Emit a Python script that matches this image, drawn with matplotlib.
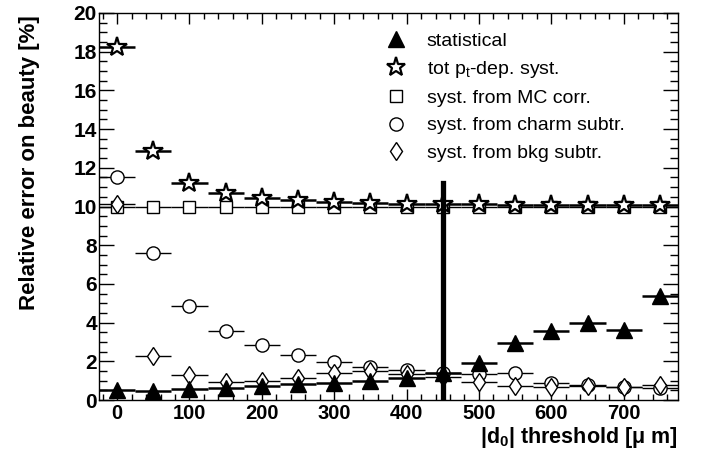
import matplotlib
matplotlib.use("Agg")
import matplotlib.pyplot as plt
from matplotlib.lines import Line2D
from matplotlib.ticker import MultipleLocator

plt.rcParams['font.family'] = ['Liberation Sans', 'DejaVu Sans']
plt.rcParams['mathtext.default'] = 'regular'

thresholds = [0, 50, 100, 150, 200, 250, 300, 350, 400, 450, 500, 550, 600, 650, 700, 750]
statistical = [0.53, 0.48, 0.57, 0.64, 0.74, 0.83, 0.9, 1.0, 1.15, 1.4, 1.92, 2.92, 3.55, 3.98, 3.6, 5.4]
tot_syst = [18.26, 12.87, 11.23, 10.7, 10.45, 10.35, 10.25, 10.2, 10.15, 10.12, 10.12, 10.1, 10.08, 10.08, 10.08, 10.08]
mc_corr = [10.0] * 16
charm_subtr = [11.5, 7.61, 4.86, 3.58, 2.84, 2.33, 1.97, 1.7, 1.55, 1.42, 1.33, 1.38, 0.86, 0.8, 0.69, 0.62]
bkg_subtr = [10.15, 2.27, 1.29, 0.95, 0.98, 1.12, 1.4, 1.5, 1.32, 1.2, 0.95, 0.72, 0.69, 0.72, 0.69, 0.76]
bin_half = 25
cut_value = 450
cut_top = 11.2

labels = ["statistical", "tot p$_{t}$-dep. syst.", "syst. from MC corr.",
          "syst. from charm subtr.", "syst. from bkg subtr."]

fig = plt.figure(figsize=(7.13, 4.54), dpi=100)
ax = fig.add_axes([99/713, 54/454, 579/713, 387/454])

ax.errorbar(thresholds, mc_corr, xerr=bin_half, fmt='s', ms=9, mfc='white', mec='black',
            mew=1.0, ecolor='black', elinewidth=1.0, capsize=0, zorder=3)
ax.errorbar(thresholds, charm_subtr, xerr=bin_half, fmt='o', ms=9.5, mfc='white', mec='black',
            mew=1.0, ecolor='black', elinewidth=1.0, capsize=0, zorder=3)
ax.errorbar(thresholds, bkg_subtr, xerr=bin_half, fmt='d', ms=9.5, mfc='white', mec='black',
            mew=1.0, ecolor='black', elinewidth=1.0, capsize=0, zorder=3)
ax.errorbar(thresholds, statistical, xerr=bin_half, fmt='^', ms=11, mfc='black', mec='black',
            mew=1.0, ecolor='black', elinewidth=1.8, capsize=0, zorder=4)
ax.errorbar(thresholds, tot_syst, xerr=bin_half, fmt='*', ms=15, mfc='white', mec='black',
            mew=1.6, ecolor='black', elinewidth=1.8, capsize=0, zorder=5)

ax.plot([cut_value, cut_value], [0, cut_top], color='black', lw=3.8, zorder=6)

ax.set_xlim(-25, 775)
ax.set_ylim(0, 20)
ax.xaxis.set_major_locator(MultipleLocator(100))
ax.xaxis.set_minor_locator(MultipleLocator(20))
ax.yaxis.set_major_locator(MultipleLocator(2))
ax.yaxis.set_minor_locator(MultipleLocator(0.5))
ax.tick_params(axis='both', which='both', direction='in', top=True, right=True, width=1.0)
ax.tick_params(axis='y', which='major', length=11, labelsize=15, pad=1.5)
ax.tick_params(axis='y', which='minor', length=5.5)
ax.tick_params(axis='x', which='major', length=8, labelsize=14.5, pad=3)
ax.tick_params(axis='x', which='minor', length=4)
for lab in ax.get_xticklabels() + ax.get_yticklabels():
    lab.set_fontweight('bold')
for sp in ax.spines.values():
    sp.set_linewidth(1.0)

fig.text(30/713, 1 - 15/454, "Relative error on beauty [%]", rotation=90, ha='center', va='top',
         fontsize=16, fontweight='bold')
fig.text(678/713, 1 - 443/454, "|d$_{0}$| threshold [μ m]", ha='right', va='baseline',
         fontsize=15.5, fontweight='bold')

handles = [
    Line2D([], [], ls='none', marker='^', ms=11, mfc='black', mec='black'),
    Line2D([], [], ls='none', marker='*', ms=14, mfc='white', mec='black', mew=1.6),
    Line2D([], [], ls='none', marker='s', ms=9, mfc='white', mec='black'),
    Line2D([], [], ls='none', marker='o', ms=9.5, mfc='white', mec='black'),
    Line2D([], [], ls='none', marker='d', ms=9.5, mfc='white', mec='black'),
]
leg = fig.legend(handles, labels, loc='upper left', bbox_to_anchor=(386/713, 1 - 32/454),
                 frameon=False, fontsize=14, labelspacing=0.49, handlelength=1.0,
                 handletextpad=1.1, borderaxespad=0, borderpad=0)

fig.savefig("out.png", dpi=100)
